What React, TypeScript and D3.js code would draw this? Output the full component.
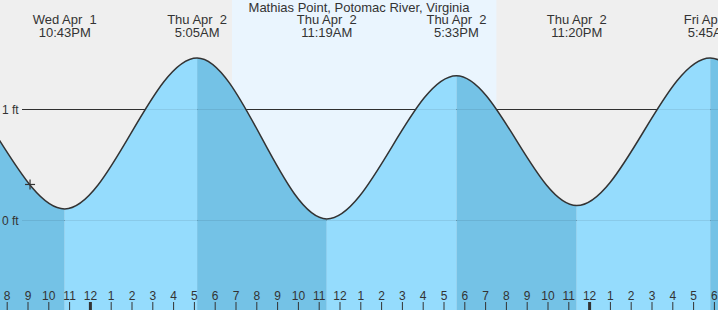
import React from "react";
import * as d3 from "d3";

const W = 718;
const H = 310;

const title = "Mathias Point, Potomac River, Virginia";
// tide extremes, hours from Thu Apr 2 00:00
const eventTimes = [-13.9, -7.6, -1.283, 5.083, 11.317, 17.55, 23.333, 29.75, 36.0, 42.2];
const eventHeights = [0.05, 1.35, 0.1, 1.46, 0.01, 1.3, 0.13, 1.46, 0.05, 1.4];
const eventDays = ["", "", "Wed Apr  1", "Thu Apr  2", "Thu Apr  2", "Thu Apr  2", "Thu Apr  2", "Fri Apr  3", "", ""];
const eventClock = ["", "", "10:43PM", "5:05AM", "11:19AM", "5:33PM", "11:20PM", "5:45AM", "", ""];
const sunTimes = [6.76, 19.47];
const hourTicks = d3.range(-4, 31);
const yTicks = [0, 1];
const nowTime = -2.95;
const nowHeight = 0.32;

const BG = "#efefef";
const DAY = "#eaf5fe";
const LIGHT = "#95dcfd";
const DARK = "#74c2e6";
const TXT = "#333";

export default function App() {
  const x = d3.scaleLinear().domain([-91.4 / 20.8, (W - 91.4) / 20.8]).range([0, W]);
  const y = d3.scaleLinear().domain([0, 1]).range([220, 109]);
  const pts: [number, number][] = eventTimes.map((t, i) => [t, eventHeights[i]]);
  const line = d3.line<[number, number]>().x(d => x(d[0])).y(d => y(d[1])).curve(d3.curveMonotoneX);
  const area = d3.area<[number, number]>().x(d => x(d[0])).y0(H).y1(d => y(d[1])).curve(d3.curveMonotoneX);
  const font = "'Liberation Sans', Arial, sans-serif";

  const bands: { x0: number; x1: number; dark: boolean }[] = [];
  for (let i = 0; i < eventTimes.length - 1; i++) {
    bands.push({ x0: x(eventTimes[i]), x1: x(eventTimes[i + 1]), dark: eventHeights[i] > eventHeights[i + 1] });
  }

  return (
    <svg width={W} height={H} style={{ position: "absolute", left: 0, top: 0, display: "block" }} fontFamily={font}>
      <defs>
        <clipPath id="tideClip">
          <path d={area(pts) || ""} />
        </clipPath>
      </defs>
      <rect x={0} y={0} width={W} height={H} fill={BG} />
      <rect x={x(sunTimes[0])} y={0} width={x(sunTimes[1]) - x(sunTimes[0])} height={H} fill={DAY} />
      {yTicks.map(v => (
        <line key={"g" + v} x1={22} x2={W} y1={y(v) + 0.5} y2={y(v) + 0.5} stroke={TXT} strokeWidth={1} />
      ))}
      <g clipPath="url(#tideClip)">
        {bands.map((b, i) => (
          <rect key={i} x={b.x0} y={0} width={b.x1 - b.x0} height={H} fill={b.dark ? DARK : LIGHT} />
        ))}
      </g>
      {yTicks.map(v => (
        <line key={"o" + v} x1={22} x2={W} y1={y(v) + 0.5} y2={y(v) + 0.5} stroke="rgba(0,0,0,0.08)" strokeWidth={1} />
      ))}
      <path d={line(pts) || ""} fill="none" stroke={TXT} strokeWidth={1.5} />
      {yTicks.map(v => (
        <text key={"l" + v} x={2} y={y(v) + 4.5} fontSize={12} fill={TXT}>{v} ft</text>
      ))}
      <g stroke={TXT} strokeWidth={1.2}>
        <line x1={x(nowTime) - 5} x2={x(nowTime) + 5} y1={y(nowHeight)} y2={y(nowHeight)} />
        <line x1={x(nowTime)} x2={x(nowTime)} y1={y(nowHeight) - 5} y2={y(nowHeight) + 5} />
      </g>
      {hourTicks.map(t => {
        const hr = ((t % 24) + 24) % 24;
        const lab = hr % 12 === 0 ? 12 : hr % 12;
        const px = x(t) - 1;
        const mid = hr === 0;
        return (
          <g key={t}>
            <line x1={px} x2={px} y1={302} y2={H} stroke={TXT} strokeWidth={mid ? 3 : 1} />
            <text x={px} y={300} fontSize={12} textAnchor="middle" fill={TXT}>{lab}</text>
          </g>
        );
      })}
      {eventTimes.map((t, i) =>
        eventClock[i] ? (
          <g key={"e" + i}>
            <text x={x(t)} y={24} fontSize={13} textAnchor="middle" fill={TXT} style={{ whiteSpace: "pre" }}>{eventDays[i]}</text>
            <text x={x(t)} y={37} fontSize={13} textAnchor="middle" fill={TXT}>{eventClock[i]}</text>
          </g>
        ) : null
      )}
      <text x={W / 2} y={12} fontSize={13} textAnchor="middle" fill={TXT}>{title}</text>
    </svg>
  );
}
